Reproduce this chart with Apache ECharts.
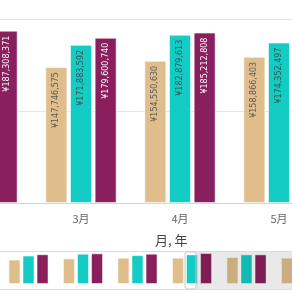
<!DOCTYPE html>
<html>
<head>
<meta charset="utf-8">
<script src="https://cdn.jsdelivr.net/npm/echarts@6/dist/echarts.min.js"></script>
<style>
html,body{margin:0;padding:0;background:#fff;}
#c{width:292px;height:292px;}
</style>
</head>
<body>
<div id="c"></div>
<script>
const categories = ['2月','3月','4月','5月','6月','7月','8月'];
const tanValues = [152000000, 147746575, 154550630, 158866403, 159000000, 163000000, 159000000];
const tealValues = [176000000, 171883592, 182879613, 174352497, 179000000, 179000000, 176000000];
const purpleValues = [187308371, 179600740, 185212808, 183000000, 187000000, 179000000, 181000000];
const yTicks = [0, 100000000, 200000000];
const axisTitle = '月, 年';
const windowEndCategory = '6月';

const colors = ['#E0BE8B', '#13CDC5', '#891F5D'];
const labelColors = ['#5a5a5a', '#3f4f4e', '#ffffff'];
const fmt = v => '¥' + Number(v).toLocaleString('en-US');

function mainSeries(name, data, idx) {
  return {
    name: name, type: 'bar', xAxisIndex: 0, yAxisIndex: 0, data: data,
    barWidth: 22, barGap: '12%',
    itemStyle: { color: colors[idx], borderColor: 'rgba(255,255,255,0.55)', borderWidth: 1 },
    label: {
      show: true, position: 'insideTop', rotate: 90, align: 'right', verticalAlign: 'middle',
      distance: 5, formatter: p => fmt(p.value),
      fontFamily: 'DejaVu Sans', fontSize: 8, color: labelColors[idx]
    },
    silent: true, animation: false
  };
}
function sliderSeries(name, data, idx) {
  return {
    name: name + 's', type: 'bar', xAxisIndex: 1, yAxisIndex: 1, data: data,
    barWidth: 12, barGap: '17%',
    itemStyle: { color: colors[idx], borderColor: 'rgba(255,255,255,0.5)', borderWidth: 1 },
    silent: true, animation: false
  };
}

const chart = echarts.init(document.getElementById('c'), null, { renderer: 'canvas' });
chart.setOption({
  animation: false,
  backgroundColor: '#ffffff',
  title: {
    text: axisTitle, left: 150, top: 229,
    textStyle: { fontFamily: 'Noto Sans CJK SC', fontSize: 13, fontWeight: 'normal', color: '#444' }
  },
  grid: [
    { left: -67.5, right: -333.5, top: 19, bottom: 89, containLabel: false, outerBoundsMode: 'none' },
    { left: -53.25, right: -36.25, top: 253, bottom: 8, containLabel: false, outerBoundsMode: 'none' }
  ],
  xAxis: [
    {
      type: 'category', gridIndex: 0, data: categories,
      axisLine: { show: true, lineStyle: { color: '#d4d4d4', width: 1 } },
      axisTick: { show: false },
      axisLabel: { color: '#666', fontSize: 11, margin: 10, fontFamily: 'Noto Sans CJK SC' }
    },
    {
      type: 'category', gridIndex: 1, data: categories,
      axisLine: { show: false }, axisTick: { show: false }, axisLabel: { show: false }
    }
  ],
  yAxis: [
    {
      type: 'value', gridIndex: 0, min: yTicks[0], max: yTicks[yTicks.length - 1],
      interval: yTicks[1] - yTicks[0],
      axisLabel: { show: false }, axisLine: { show: false }, axisTick: { show: false },
      splitLine: { lineStyle: { color: '#e6e6e6', width: 1 } }
    },
    {
      type: 'value', gridIndex: 1, min: 0, max: 'dataMax',
      axisLabel: { show: false }, axisLine: { show: false }, axisTick: { show: false },
      splitLine: { show: false }
    }
  ],
  series: [
    mainSeries('A', tanValues, 0),
    mainSeries('B', tealValues, 1),
    mainSeries('C', purpleValues, 2),
    sliderSeries('A', tanValues, 0),
    sliderSeries('B', tealValues, 1),
    sliderSeries('C', purpleValues, 2)
  ]
});

const xEnd = chart.convertToPixel({ xAxisIndex: 1 }, windowEndCategory) + 4;
chart.setOption({
  graphic: [
    { type: 'rect', shape: { x: xEnd, y: 252, width: 400, height: 38 },
      style: { fill: 'rgba(0,0,0,0.085)' }, z: 100, silent: true },
    { type: 'line', shape: { x1: 0, y1: 251.5, x2: 292, y2: 251.5 },
      style: { stroke: '#dcdcdc', lineWidth: 1 }, z: 101, silent: true },
    { type: 'line', shape: { x1: 0, y1: 289.5, x2: 292, y2: 289.5 },
      style: { stroke: '#dcdcdc', lineWidth: 1 }, z: 101, silent: true },
    { type: 'rect', shape: { x: xEnd - 11, y: 252, width: 11, height: 37, r: 2 },
      style: { fill: 'none', stroke: '#c8c8c8', lineWidth: 1 }, z: 101, silent: true }
  ]
});
</script>
</body>
</html>
